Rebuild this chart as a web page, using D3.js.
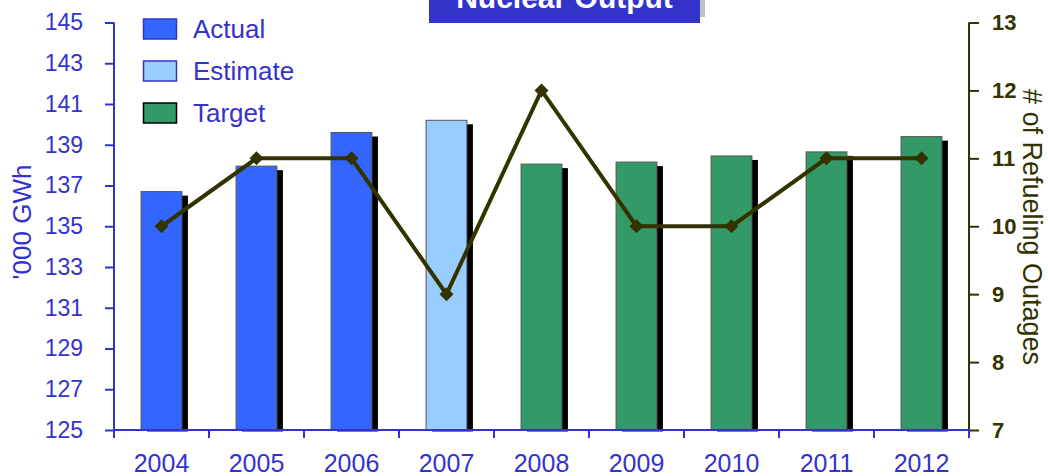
<!DOCTYPE html>
<html><head><meta charset="utf-8">
<script src="https://cdn.jsdelivr.net/npm/d3@7"></script>
<style>body{margin:0;background:#fff}svg{display:block}text{font-family:"Liberation Sans",Arial,sans-serif}</style>
</head><body><svg id="c" width="1048" height="476"></svg>
<script>
const years = ["2004","2005","2006","2007","2008","2009","2010","2011","2012"];
const output = [136.7, 137.95, 139.6, 140.2, 138.05, 138.15, 138.45, 138.65, 139.4];
const kind = ["Actual","Actual","Actual","Estimate","Target","Target","Target","Target","Target"];
const outages = [10, 11, 11, 9, 12, 10, 10, 11, 11];
const leftTicks = [125,127,129,131,133,135,137,139,141,143,145];
const rightTicks = [7,8,9,10,11,12,13];
const legendItems = ["Actual","Estimate","Target"];
const colors = {Actual:"#3366ff", Estimate:"#99ccff", Target:"#339966"};
const strokes = {Actual:"#3333cc", Estimate:"#3333cc", Target:"#000"};

const svg = d3.select("#c");
const L=114, R=969, T=22.5, B=430;
const blue="#3333cc", olive="#333300";
const x = d3.scaleBand().domain(years).range([L,R]).paddingInner(0.57).paddingOuter(0.285);
const y = d3.scaleLinear().domain([125,145]).range([B,T]);
const y2 = d3.scaleLinear().domain([7,13]).range([B,T]);

svg.append("clipPath").attr("id","cp").append("rect").attr("x",0).attr("y",0).attr("width",1048).attr("height",B+1.5);
const g = svg.append("g").attr("clip-path","url(#cp)");
g.selectAll("rect.sh").data(years).join("rect")
 .attr("x",d=>x(d)+6).attr("y",(d,i)=>y(output[i])+4)
 .attr("width",x.bandwidth()).attr("height",(d,i)=>B-y(output[i]))
 .attr("fill","#000");
g.selectAll("rect.bar").data(years).join("rect")
 .attr("x",d=>x(d)).attr("y",(d,i)=>y(output[i]))
 .attr("width",x.bandwidth()).attr("height",(d,i)=>B-y(output[i]))
 .attr("fill",(d,i)=>colors[kind[i]]).attr("stroke","#555").attr("stroke-width",1);

// left axis
const ax = svg.append("g").attr("transform",`translate(${L},0)`)
 .call(d3.axisLeft(y).tickValues(leftTicks).tickSize(9).tickPadding(22).tickFormat(d3.format("d")));
ax.selectAll("path,line").attr("stroke",blue).attr("stroke-width",2);
ax.select("path").attr("d",`M0,${T}V${B}`);
ax.selectAll("text").attr("fill",blue).attr("font-size",23).attr("font-family","Liberation Sans, Arial");

// right axis
const ax2 = svg.append("g").attr("transform",`translate(${R},0)`)
 .call(d3.axisRight(y2).tickValues(rightTicks).tickSize(10).tickPadding(13).tickFormat(d3.format("d")));
ax2.selectAll("path,line").attr("stroke",olive).attr("stroke-width",2);
ax2.select("path").attr("d",`M0,${T}V${B}`);
ax2.selectAll("text").attr("fill",olive).attr("font-size",22).attr("font-weight","bold").attr("font-family","Liberation Sans, Arial");

// bottom axis
const bx = svg.append("g").attr("transform",`translate(0,${B})`)
 .call(d3.axisBottom(x).tickSize(0).tickPadding(24));
bx.select("path").attr("d",`M${L},0H${R}`).attr("stroke",blue).attr("stroke-width",2);
bx.selectAll("text").attr("fill",blue).attr("font-size",25).attr("font-family","Liberation Sans, Arial");
bx.selectAll("line.bt").data(d3.range(years.length+1)).join("line").attr("class","bt")
 .attr("x1",i=>L+i*x.step()).attr("x2",i=>L+i*x.step()).attr("y1",0).attr("y2",8)
 .attr("stroke",blue).attr("stroke-width",2);

// line
const cx = (i)=>x(years[i])+x.bandwidth()/2;
const line = d3.line().x((d,i)=>cx(i)).y(d=>y2(d));
svg.append("path").datum(outages).attr("d",line).attr("fill","none").attr("stroke",olive).attr("stroke-width",4);
svg.selectAll("path.mk").data(outages).join("path").attr("class","mk")
 .attr("transform",(d,i)=>`translate(${cx(i)},${y2(d)})`)
 .attr("d","M0,-7L7,0L0,7L-7,0Z").attr("fill",olive);

// axis titles
svg.append("text").attr("transform","translate(31,222) rotate(-90)").attr("text-anchor","middle")
 .attr("fill",blue).attr("font-size",26).text("'000 GWh");
svg.append("text").attr("transform","translate(1023,227) rotate(90)").attr("text-anchor","middle")
 .attr("fill",olive).attr("font-size",27).text("# of Refueling Outages");

// legend
const lg = svg.append("g");
legendItems.forEach((k,i)=>{
  const yy = 19 + i*42;
  lg.append("rect").attr("x",143.5).attr("y",yy).attr("width",33).attr("height",20)
    .attr("fill",colors[k]).attr("stroke",strokes[k]).attr("stroke-width",1.5);
  lg.append("text").attr("x",193).attr("y",yy+19).attr("fill",blue).attr("font-size",26).text(k);
});

// title
svg.append("rect").attr("x",434).attr("y",-20).attr("width",271).attr("height",37).attr("fill","#c0c0c0");
svg.append("rect").attr("x",429).attr("y",-14).attr("width",271).attr("height",37).attr("fill",blue);
svg.append("text").attr("x",564.5).attr("y",8).attr("text-anchor","middle").attr("fill","#fff")
 .attr("font-size",30).attr("font-weight","bold").text("Nuclear Output");
</script></body></html>
